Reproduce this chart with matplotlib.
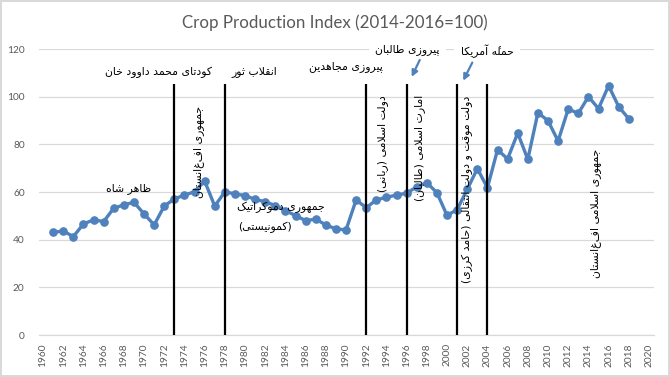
import matplotlib
matplotlib.use("Agg")
import matplotlib.pyplot as plt

# ---------------- data ----------------
years = [1961, 1962, 1963, 1964, 1965, 1966, 1967, 1968, 1969, 1970,
         1971, 1972, 1973, 1974, 1975, 1976, 1977, 1978, 1979, 1980,
         1981, 1982, 1983, 1984, 1985, 1986, 1987, 1988, 1989, 1990,
         1991, 1992, 1993, 1994, 1995, 1996, 1997, 1998, 1999, 2000,
         2001, 2002, 2003, 2004, 2005, 2006, 2007, 2008, 2009, 2010,
         2011, 2012, 2013, 2014, 2015, 2016, 2017, 2018]
crop_index = [43.1, 43.6, 41.3, 46.6, 48.3, 47.6, 53.2, 54.6, 55.7, 50.8,
              46.2, 54.1, 57.1, 58.7, 60.1, 64.6, 54.1, 60.1, 59.2, 58.5,
              56.9, 55.9, 54.3, 52.2, 50.1, 48.0, 48.6, 46.2, 44.5, 44.1,
              56.7, 53.4, 56.7, 57.8, 58.7, 59.5, 62.2, 63.9, 59.7, 50.2,
              52.6, 61.1, 69.8, 61.8, 77.7, 73.9, 84.7, 73.7, 93.3, 89.9,
              81.4, 94.8, 93.0, 100.0, 95.0, 104.6, 95.8, 90.7]
event_years = [1973, 1978, 1992, 1996, 2001, 2004]
event_line_top = 105.5
x_ticks = [1960, 1962, 1964, 1966, 1968, 1970, 1972, 1974, 1976, 1978,
           1980, 1982, 1984, 1986, 1988, 1990, 1992, 1994, 1996, 1998,
           2000, 2002, 2004, 2006, 2008, 2010, 2012, 2014, 2016, 2018, 2020]
y_ticks = [0, 20, 40, 60, 80, 100, 120]
title = "Crop Production Index (2014-2016=100)"

# horizontal labels: (text, x, y, ha)
top_labels = [
    ("کودتای محمد داوود خان", 1971.4, 110.4, "center"),
    ("انقلاب ثور", 1980.9, 110.4, "center"),
    ("پیروزی مجاهدین", 1990.0, 112.6, "center"),
    ("ظاهر شاه", 1968.45, 61.3, "center"),
    ("جمهوری دموکراتیک", 1979.2, 53.7, "left"),
    ("(کمونیستی)", 1979.3, 45.3, "left"),
]
boxed_labels = [
    ("پیروزی طالبان", 1996.1, 120.0),
    ("حملهٔ آمریکا", 2004.0, 119.3),
]
# vertical period labels: (text, x, y-center)
period_labels = [
    ("جمهوری افغانستان", 1975.4, 77.0),
    ("دولت اسلامی (ربانی)", 1993.6, 80.4),
    ("امارت اسلامی (طالبان)", 1997.3, 78.7),
    ("دولت موقت و دولت انتقالی (حامد کرزی)", 2002.0, 61.3),
    ("جمهوری اسلامی افغانستان", 2014.7, 51.2),
]
# arrows: (x_from, y_from, x_to, y_to)
arrows = [
    (1997.3, 115.4, 1996.5, 108.3),
    (2002.5, 114.3, 2001.6, 106.7),
]

# ---------------- Arabic shaping (contextual forms + visual order) ----------------
FORMS = {
    'ا': ('\uFE8D', '\uFE8E', None, None),
    'آ': ('\uFE81', '\uFE82', None, None),
    'ب': ('\uFE8F', '\uFE90', '\uFE91', '\uFE92'),
    'پ': ('\uFB56', '\uFB57', '\uFB58', '\uFB59'),
    'ت': ('\uFE95', '\uFE96', '\uFE97', '\uFE98'),
    'ث': ('\uFE99', '\uFE9A', '\uFE9B', '\uFE9C'),
    'ج': ('\uFE9D', '\uFE9E', '\uFE9F', '\uFEA0'),
    'ح': ('\uFEA1', '\uFEA2', '\uFEA3', '\uFEA4'),
    'خ': ('\uFEA5', '\uFEA6', '\uFEA7', '\uFEA8'),
    'د': ('\uFEA9', '\uFEAA', None, None),
    'ر': ('\uFEAD', '\uFEAE', None, None),
    'ز': ('\uFEAF', '\uFEB0', None, None),
    'س': ('\uFEB1', '\uFEB2', '\uFEB3', '\uFEB4'),
    'ش': ('\uFEB5', '\uFEB6', '\uFEB7', '\uFEB8'),
    'ط': ('\uFEC1', '\uFEC2', '\uFEC3', '\uFEC4'),
    'ظ': ('\uFEC5', '\uFEC6', '\uFEC7', '\uFEC8'),
    'ف': ('\uFED1', '\uFED2', '\uFED3', '\uFED4'),
    'ق': ('\uFED5', '\uFED6', '\uFED7', '\uFED8'),
    'ک': ('\uFB8E', '\uFB8F', '\uFB90', '\uFB91'),
    'ل': ('\uFEDD', '\uFEDE', '\uFEDF', '\uFEE0'),
    'م': ('\uFEE1', '\uFEE2', '\uFEE3', '\uFEE4'),
    'ن': ('\uFEE5', '\uFEE6', '\uFEE7', '\uFEE8'),
    'ه': ('\uFEE9', '\uFEEA', '\uFEEB', '\uFEEC'),
    'و': ('\uFEED', '\uFEEE', None, None),
    'ی': ('\uFBFC', '\uFBFD', '\uFBFE', '\uFBFF'),
}
LAMALEF = {'ا': ('\uFEFB', '\uFEFC'), 'آ': ('\uFEF5', '\uFEF6')}
MARKS = {'\u0654'}
MIRROR = {'(': ')', ')': '('}


def _dual(c):
    return c in FORMS and FORMS[c][2] is not None


def shape(s):
    # group into clusters (base letter + combining marks)
    clusters = []
    for ch in s:
        if ch in MARKS and clusters:
            clusters[-1][1].append(ch)
        else:
            clusters.append([ch, []])
    bases = [c[0] for c in clusters]
    n = len(bases)
    out = []
    i = 0
    while i < n:
        c = bases[i]
        marks = ''.join(clusters[i][1])
        if c not in FORMS:
            out.append(MIRROR.get(c, c) + marks)
            i += 1
            continue
        prev_joins = i > 0 and _dual(bases[i - 1])
        if c == 'ل' and i + 1 < n and bases[i + 1] in LAMALEF:
            lig = LAMALEF[bases[i + 1]]
            out.append((lig[1] if prev_joins else lig[0]) + marks)
            i += 2
            continue
        next_joins = (i + 1 < n) and (bases[i + 1] in FORMS) and _dual(c)
        iso, fin, ini, med = FORMS[c]
        if prev_joins and next_joins:
            g = med
        elif prev_joins:
            g = fin
        elif next_joins:
            g = ini
        else:
            g = iso
        out.append(g + marks)
        i += 1
    return ''.join(reversed(out))


# ---------------- figure ----------------
LATIN = ['Lato', 'DejaVu Sans']
ARABIC = ['DejaVu Sans', 'Noto Sans']
GREY = '#595959'
BLUE = '#4F81BD'

fig = plt.figure(figsize=(6.7, 3.77), dpi=100, facecolor='white',
                 edgecolor='#D9D9D9', linewidth=1.5)
ax = fig.add_axes([0.0575, 0.1114, 0.9187, 0.7586])

ax.plot(years, crop_index, color=BLUE, lw=2.4, marker='o', ms=5.2,
        markerfacecolor=BLUE, markeredgecolor=BLUE, zorder=3)

ax.vlines(event_years, 0, event_line_top, colors='black', lw=1.6, zorder=4)

ax.set_xlim(1959.55, 2020.5)
ax.set_ylim(0, 120)
ax.set_xticks(x_ticks)
ax.set_xticklabels([str(t) for t in x_ticks], rotation=90,
                   family=LATIN, fontsize=7.3, color=GREY)
ax.set_yticks(y_ticks)
ax.set_yticklabels([str(t) for t in y_ticks], family=LATIN, fontsize=7.3,
                   color=GREY)
ax.tick_params(axis='both', length=0)
ax.tick_params(axis='y', pad=10)
ax.tick_params(axis='x', pad=6)
ax.grid(axis='y', color='#D9D9D9', lw=0.9, zorder=0)
for sp in ['top', 'right', 'left']:
    ax.spines[sp].set_visible(False)
ax.spines['bottom'].set_color('#D9D9D9')
ax.spines['bottom'].set_linewidth(0.9)
ax.set_axisbelow(True)

fig.text(0.499, 0.94, title, ha='center', va='center', family=LATIN,
         fontsize=12.2, color=GREY)

for txt, x, y, ha in top_labels:
    ax.text(x, y, shape(txt), ha=ha, va='center', family=ARABIC,
            fontsize=7.8, color='black', zorder=5)

for txt, x, y in boxed_labels:
    ax.text(x, y, shape(txt), ha='center', va='center', family=ARABIC,
            fontsize=7.8, color='black', zorder=5,
            bbox=dict(boxstyle='square,pad=0.6', fc='white', ec='none'))

for txt, x, y in period_labels:
    ax.text(x, y, shape(txt), ha='center', va='center', rotation=90,
            rotation_mode='anchor', family=ARABIC, fontsize=7.8,
            color='black', zorder=5)

for x0, y0, x1, y1 in arrows:
    ax.annotate('', xy=(x1, y1), xytext=(x0, y0),
                arrowprops=dict(arrowstyle='-|>', color=BLUE, lw=1.6,
                                mutation_scale=9, shrinkA=0, shrinkB=0),
                zorder=6, annotation_clip=False)

fig.savefig('out.png', dpi=100, facecolor='white', edgecolor='#D9D9D9')
